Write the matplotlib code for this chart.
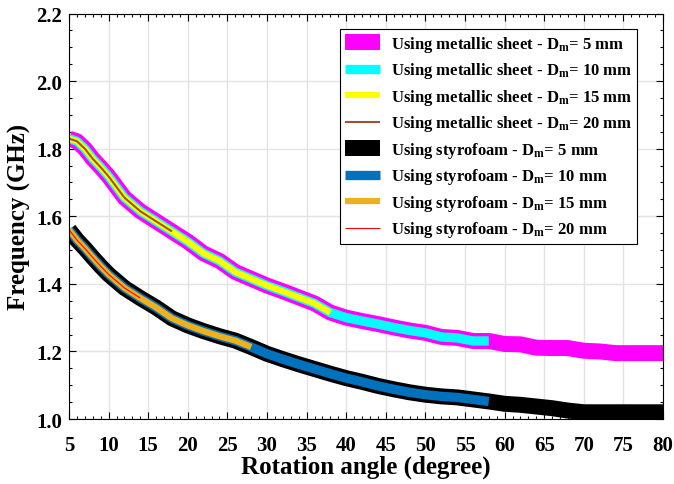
import numpy as np
import matplotlib.pyplot as plt
from matplotlib.ticker import MultipleLocator

plt.rcParams['font.family'] = ['Liberation Serif', 'DejaVu Serif']
plt.rcParams['font.weight'] = 'bold'
plt.rcParams['mathtext.fontset'] = 'custom'
plt.rcParams['mathtext.rm'] = 'Liberation Serif:bold'
plt.rcParams['mathtext.it'] = 'Liberation Serif:bold'
plt.rcParams['mathtext.bf'] = 'Liberation Serif:bold'

# rotation angle (degree)
angle = [5, 6, 7, 8, 9, 10, 12, 14, 16, 18, 20, 22, 24, 26, 28, 30, 32, 34, 36, 38,
         40, 42, 44, 46, 48, 50, 52, 54, 56, 58, 60, 62, 64, 66, 68, 70, 72, 74, 76, 78, 80]

# frequency (GHz), metallic sheet
freq_metal = [1.830, 1.822, 1.800, 1.770, 1.745, 1.718, 1.655, 1.615, 1.585, 1.555,
              1.525, 1.490, 1.468, 1.435, 1.415, 1.395, 1.378, 1.360, 1.342, 1.315,
              1.300, 1.290, 1.281, 1.271, 1.262, 1.255, 1.243, 1.240, 1.231, 1.231,
              1.222, 1.221, 1.211, 1.210, 1.210, 1.202, 1.200, 1.195, 1.195, 1.195, 1.195]

# frequency (GHz), styrofoam
freq_styro = [1.560, 1.530, 1.505, 1.478, 1.452, 1.428, 1.388, 1.358, 1.330, 1.298,
              1.277, 1.260, 1.245, 1.232, 1.213, 1.193, 1.177, 1.162, 1.148, 1.134,
              1.121, 1.110, 1.098, 1.088, 1.079, 1.072, 1.067, 1.064, 1.058, 1.052,
              1.045, 1.042, 1.037, 1.032, 1.025, 1.020, 1.020, 1.020, 1.020, 1.020, 1.020]

diameters = [5, 10, 15, 20]
# last measured angle for each diameter
max_angle_metal = [80, 58, 38, 18]
max_angle_styro = [80, 58, 28, 14]

colors_metal = ['#ff00ff', '#00ffff', '#ffff00', '#a0522d']
colors_styro = ['#000000', '#0072bd', '#edb120', '#ff0000']
widths = [11.5, 6.7, 4.5, 1.5]
widths_styro = [11.5, 6.7, 4.5, 0.8]

angle = np.array(angle)
freq_metal = np.array(freq_metal)
freq_styro = np.array(freq_styro)

fig = plt.figure(figsize=(6.74, 4.85), dpi=100)
ax = fig.add_axes([0.1024, 0.134, 0.8813, 0.836])

for d, amax, c, w in zip(diameters, max_angle_metal, colors_metal, widths):
    m = angle <= amax
    ax.plot(angle[m], freq_metal[m], color=c, lw=w, solid_capstyle='butt',
            solid_joinstyle='round',
            label='Using metallic sheet - D$_{\\mathrm{m}}$= %d mm' % d)
for d, amax, c, w in zip(diameters, max_angle_styro, colors_styro, widths_styro):
    m = angle <= amax
    ax.plot(angle[m], freq_styro[m], color=c, lw=w, solid_capstyle='butt',
            solid_joinstyle='round',
            label='Using styrofoam - D$_{\\mathrm{m}}$= %d mm' % d)

ax.set_xlim(5, 80)
ax.set_ylim(1.0, 2.2)
ax.xaxis.set_major_locator(MultipleLocator(5))
ax.xaxis.set_minor_locator(MultipleLocator(1))
ax.yaxis.set_major_locator(MultipleLocator(0.2))
ax.yaxis.set_minor_locator(MultipleLocator(0.05))
ax.yaxis.set_major_formatter(plt.FormatStrFormatter('%.1f'))
ax.tick_params(which='both', direction='in', top=True, right=True, labelsize=15,
               width=0.8)
ax.tick_params(which='major', length=5)
ax.tick_params(which='minor', length=2.5)
ax.tick_params(axis='x', which='major', pad=11.5)
ax.tick_params(axis='y', which='major', pad=5)
ax.grid(True, which='major', color='#e3e3e3', lw=1.0)
ax.set_axisbelow(True)
for s in ax.spines.values():
    s.set_linewidth(0.8)

ax.set_xlabel('Rotation angle (degree)', fontsize=18, fontweight='bold', labelpad=0)
ax.set_ylabel('Frequency (GHz)', fontsize=18, fontweight='bold', labelpad=4)

leg = ax.legend(loc='upper right', bbox_to_anchor=(0.956, 0.962), fontsize=12,
                frameon=True, fancybox=False, edgecolor='black', framealpha=1,
                handlelength=2.1, handletextpad=0.65, borderpad=0.3,
                labelspacing=0.39, borderaxespad=0)
leg.get_frame().set_linewidth(0.8)

fig.savefig('out.png', dpi=100)
